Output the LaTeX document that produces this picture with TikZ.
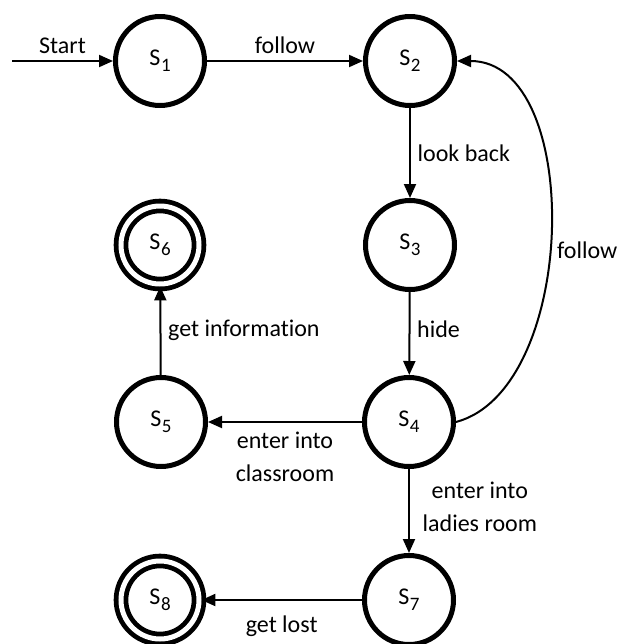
\documentclass[tikz,border=0pt]{standalone}
\usepackage{fontspec}
\setmainfont{Carlito}[Ligatures=CommonOff]
\usetikzlibrary{arrows.meta}
\newcommand{\stsub}[1]{S\kern0.3pt\raisebox{-0.55ex}{\fontsize{9.5}{10}\selectfont #1}}
\tikzset{>={Triangle[length=7pt,width=6pt]},
  state/.style={circle, draw, line width=2.5pt, minimum size=44.5pt, inner sep=0pt},
  final/.style={circle, draw, line width=2.4pt, double, double distance=2.5pt, minimum size=39pt, inner sep=0pt},
  trans/.style={->, line width=1pt}}

\begin{document}
\begin{tikzpicture}[x=0.5pt, y=-0.5pt, font=\fontsize{12}{16.5}\selectfont]
    \useasboundingbox (0,0) rectangle (623,644);
    \node[state] (S1) at (160,61) {\stsub{1}};
    \node[state] (S2) at (410,61) {\stsub{2}};
    \node[state] (S3) at (410,245) {\stsub{3}};
    \node[state] (S4) at (409,422) {\stsub{4}};
    \node[state] (S5) at (161,422) {\stsub{5}};
    \node[final] (S6) at (160,245) {\stsub{6}};
    \node[state] (S7) at (409,600) {\stsub{7}};
    \node[final] (S8) at (160,600) {\stsub{8}};
    \coordinate (in) at (12,61);
  % transitions
    \draw[trans] (in) -- node[above] {Start} (S1);
    \draw[trans] (S1) -- node[above] {follow} (S2);
    \draw[trans] (S2) -- node[right] {look back} (S3);
    \draw[trans] (S3) -- node[right, pos=0.45] {hide} (S4);
    \draw[trans] (S4.east) to[out=15, in=0, looseness=0.9] node[right, pos=0.46] {follow} (S2.east);
    \draw[trans] (S4) -- node[below=1pt, align=center] {enter into\\classroom} (S5);
    \draw[trans] (S5) -- node[right] {get information} (S6);
    \draw[trans] (S4) -- node[right=3pt, align=center, pos=0.45] {enter into\\ladies room} (S7);
    \draw[trans] (S7) -- node[below=4pt] {get lost} (S8);
\end{tikzpicture}
\end{document}
